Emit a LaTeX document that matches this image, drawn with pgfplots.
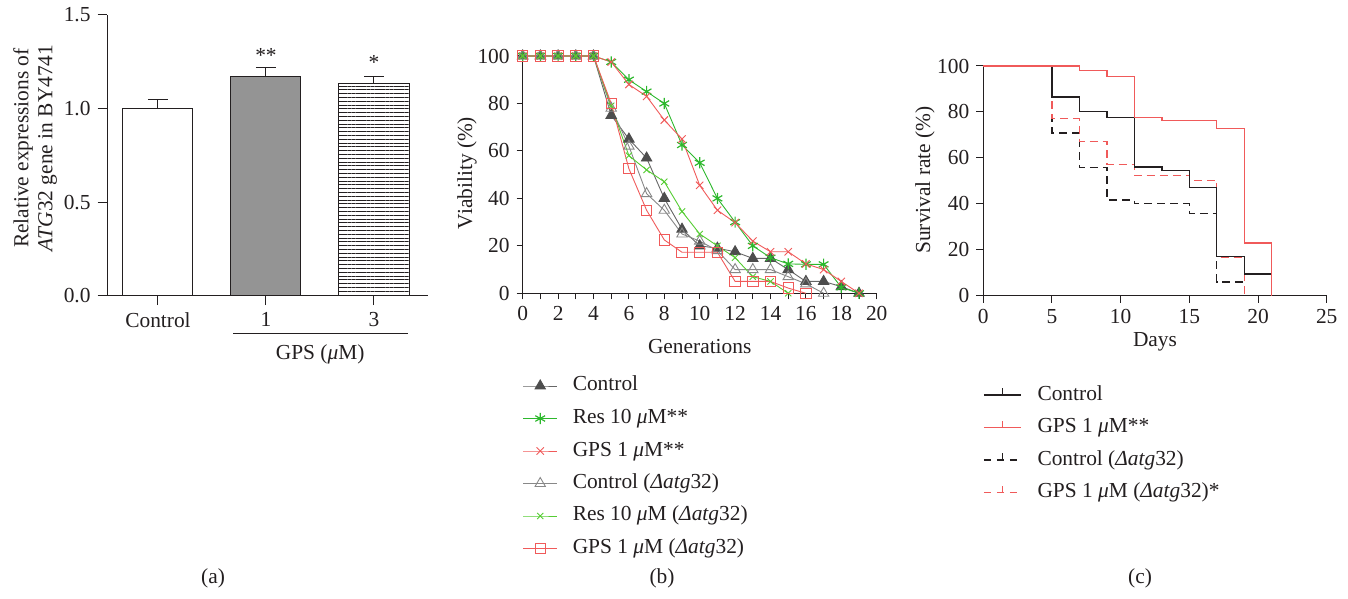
\documentclass[border=0pt]{standalone}
\usepackage{fontspec}
\setmainfont{Liberation Serif}
\usepackage{pgfplots}
\pgfplotsset{compat=1.18}
\usetikzlibrary{patterns.meta}
\newcommand{\fs}{\fontsize{10.7}{12}\selectfont}
\definecolor{txt}{HTML}{231F20}
\definecolor{cdark}{HTML}{4D4D4D}
\definecolor{cgray}{HTML}{888888}
\definecolor{cgreen}{HTML}{2DB82D}
\definecolor{clgreen}{HTML}{55CC33}
\definecolor{cred}{HTML}{F05A5A}
\pgfplotsset{
  mystyle/.style={
    scale only axis,
    axis x line*=bottom, axis y line*=left,
    axis line style={-, line width=0.5pt, color=txt},
    every tick/.style={line width=0.5pt, color=txt},
    tick align=outside,
    tick label style={font=\fs, color=txt},
    label style={font=\fs, color=txt},
    /pgf/number format/assume math mode=true,
    clip=false,
  },
  myleg/.style={
    legend style={font=\fs, draw=none, fill=none, inner sep=0pt, outer sep=0pt,
      row sep=6.25pt, column sep=7.5pt,
      nodes={inner sep=0pt, text height=7.5pt, text depth=2.5pt, text=txt}},
    legend cell align=left,
  },
}
\begin{document}
\begin{tikzpicture}
\useasboundingbox (0,0) rectangle (674pt,299.5pt);
% ---------------- (a) ----------------
\begin{axis}[mystyle, at={(53.5pt,151.65pt)}, anchor=south west,
  width=160.5pt, height=140.35pt,
  xmin=-0.472, xmax=2.5, ymin=0, ymax=1.5,
  ytick={0,0.5,1,1.5}, yticklabels={0.0,0.5,1.0,1.5},
  xtick={0,1,2}, xticklabels={Control,1,3},
  major tick length=4.7pt,
  ybar, bar width=35pt,
  ylabel style={align=center, at={(axis description cs:-0.224,0.526)}, anchor=center},
  ylabel={Relative expressions of\\\textit{ATG}32 gene in BY4741},
]
\addplot[bar shift=0pt, fill=white, draw=txt, line width=0.5pt,
  error bars/.cd, y dir=plus, y explicit,
  error bar style={line width=0.5pt, color=txt},
  error mark options={rotate=90, mark size=5pt, line width=0.5pt, color=txt}]
  coordinates {(0,1.0) +- (0,0.048)};
\addplot[bar shift=0pt, fill=black!42, draw=txt, line width=0.5pt,
  error bars/.cd, y dir=plus, y explicit,
  error bar style={line width=0.5pt, color=txt},
  error mark options={rotate=90, mark size=5pt, line width=0.5pt, color=txt}]
  coordinates {(1,1.173) +- (0,0.048)};
\addplot[bar shift=0pt, pattern={Lines[angle=0,distance=1.9pt,line width=0.45pt]}, pattern color=txt, draw=txt, line width=0.5pt,
  error bars/.cd, y dir=plus, y explicit,
  error bar style={line width=0.5pt, color=txt},
  error mark options={rotate=90, mark size=5pt, line width=0.5pt, color=txt}]
  coordinates {(2,1.132) +- (0,0.039)};
\node[font=\fs, text=txt] at (axis cs:1,1.285) {**};
\node[font=\fs, text=txt] at (axis cs:2,1.245) {*};
\draw[line width=0.5pt, txt] (axis description cs:0.393,-0.133) -- (axis description cs:0.938,-0.133);
\node[font=\fs, text=txt] at (axis description cs:0.664,-0.208) {GPS (\textit{μ}M)};
\end{axis}
% ---------------- (b) ----------------
\begin{axis}[mystyle, myleg, at={(261.35pt,152.85pt)}, anchor=south west,
  width=177pt, height=118.65pt,
  xmin=0, xmax=20, ymin=0, ymax=100,
  xtick={0,2,...,20}, minor xtick={1,3,...,19}, ytick={0,20,...,100},
  major tick length=3pt, minor tick length=3pt,
  xlabel={Generations}, ylabel={Viability (\%)},
  xlabel style={at={(axis description cs:0.5,-0.226)}, anchor=center},
  ylabel style={at={(axis description cs:-0.157,0.507)}, anchor=center},
  legend style={at={(axis description cs:0,-0.3485)}, anchor=north west},
]
\addplot[color=black!60, line width=0.45pt, mark=triangle*, mark size=3pt, mark options={fill=cdark, draw=cdark, solid}]
  coordinates {(0,100)(1,100)(2,100)(3,100)(4,100)(5,75)(6,65)(7,57)(8,40)(9,27)(10,20)(11,19)(12,17.5)(13,14.7)(14,14.7)(15,10)(16,5)(17,5)(18,2.8)(19,0)};
\addlegendentry{Control}
\addplot[color=cgreen, line width=0.45pt, mark=asterisk, mark size=2.8pt, mark options={solid, line width=0.6pt}]
  coordinates {(0,100)(1,100)(2,100)(3,100)(4,100)(5,97.5)(6,90)(7,85)(8,80)(9,62.5)(10,55)(11,40)(12,30)(13,20)(14,15)(15,12.4)(16,12.2)(17,12.2)(18,2.5)(19,0)};
\addlegendentry{Res 10 \textit{μ}M**}
\addplot[color=cred, line width=0.45pt, mark=x, mark size=2.6pt, mark options={solid}]
  coordinates {(0,100)(1,100)(2,100)(3,100)(4,100)(5,97.5)(6,88)(7,83)(8,73)(9,65)(10,45.5)(11,35)(12,29.8)(13,22)(14,17.5)(15,17.5)(16,12.4)(17,10)(18,5)(19,0)};
\addlegendentry{GPS 1 \textit{μ}M**}
\addplot[color=cgray, line width=0.45pt, mark=triangle, mark size=3pt, mark options={solid}]
  coordinates {(0,100)(1,100)(2,100)(3,100)(4,100)(5,78)(6,62)(7,42)(8,35)(9,25)(10,22)(11,18)(12,10)(13,10)(14,10)(15,7)(16,4)(17,0)};
\addlegendentry{Control (\textit{Δatg}32)}
\addplot[color=clgreen, line width=0.45pt, mark=x, mark size=2.2pt, mark options={solid}]
  coordinates {(0,100)(1,100)(2,100)(3,100)(4,100)(5,79)(6,58)(7,52)(8,47)(9,34.5)(10,25)(11,20)(12,15)(13,7)(14,5)(15,0)};
\addlegendentry{Res 10 \textit{μ}M (\textit{Δatg}32)}
\addplot[color=cred, line width=0.45pt, mark=square, mark size=2.6pt, mark options={solid}]
  coordinates {(0,100)(1,100)(2,100)(3,100)(4,100)(5,80)(6,52.5)(7,35)(8,22.5)(9,17.3)(10,17.3)(11,17.3)(12,5)(13,5)(14,5)(15,2.2)(16,0)};
\addlegendentry{GPS 1 \textit{μ}M (\textit{Δatg}32)}
\end{axis}
% ---------------- (c) ----------------
\begin{axis}[mystyle, myleg, at={(491.65pt,151.65pt)}, anchor=south west,
  width=171.7pt, height=114.85pt,
  xmin=0, xmax=25, ymin=0, ymax=100,
  xtick={0,5,...,25}, ytick={0,20,...,100},
  major tick length=3.5pt,
  xlabel={Days}, ylabel={Survival rate (\%)},
  xlabel style={at={(axis description cs:0.5,-0.2)}, anchor=center},
  ylabel style={at={(axis description cs:-0.17,0.504)}, anchor=center},
  legend style={at={(axis description cs:0,-0.389)}, anchor=north west, column sep=8pt},
  legend image code/.code={\draw[#1] (0cm,0cm) -- (0.65cm,0cm); \draw[#1, solid] (0.325cm,0cm) -- (0.325cm,3.5pt);},
  legend entries={Control, GPS 1 \textit{μ}M**, Control (\textit{Δatg}32), GPS 1 \textit{μ}M (\textit{Δatg}32)*},
]
\addlegendimage{color=txt, line width=0.6pt}
\addlegendimage{color=cred, line width=0.6pt}
\addlegendimage{color=txt, line width=0.6pt, dash pattern=on 3.5pt off 3pt}
\addlegendimage{color=cred, line width=0.6pt, dash pattern=on 3.5pt off 3pt}
\addplot[forget plot, const plot, color=txt, line width=0.65pt, dash pattern=on 4pt off 2.5pt]
  coordinates {(0,100)(5,70.8)(7,55.8)(9,41.6)(11,40)(15,35.8)(17,6)(19,0)};
\addplot[forget plot, const plot, color=cred, line width=0.65pt, dash pattern=on 4pt off 2.5pt]
  coordinates {(0,100)(5,77)(7,67)(9,57)(11,52.3)(15,50.2)(17,16.5)(19,0)};
\addplot[forget plot, const plot, color=txt, line width=0.65pt]
  coordinates {(0,100)(5,86.5)(7,80.2)(9,77.5)(11,56)(13,54.4)(15,47)(17,17)(19,9.5)(21,0)};
\addplot[forget plot, const plot, color=cred, line width=0.65pt]
  coordinates {(0,100)(7,98)(9,95.3)(11,77.7)(13,76.3)(17,72.7)(19,23)(21,0)};
\end{axis}
% ---------------- panel labels ----------------
\node[font=\fs, text=txt] at (106.5pt,10.5pt) {(a)};
\node[font=\fs, text=txt] at (331pt,10.5pt) {(b)};
\node[font=\fs, text=txt] at (570pt,10.5pt) {(c)};
\end{tikzpicture}
\end{document}
